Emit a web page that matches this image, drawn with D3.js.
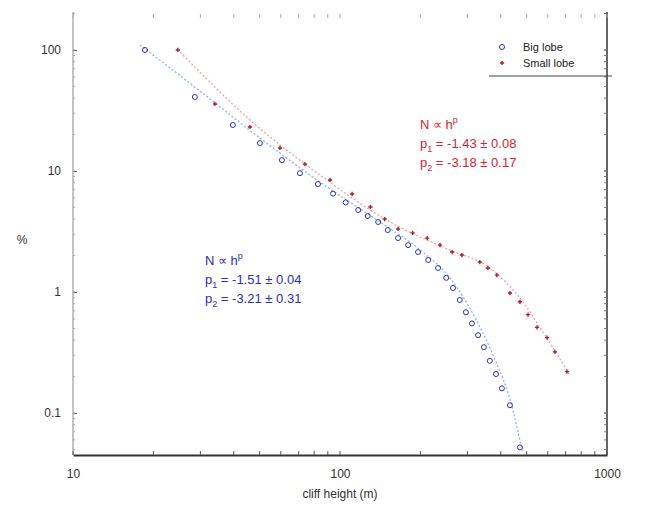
<!DOCTYPE html>
<html>
<head>
<meta charset="utf-8">
<script src="https://cdn.jsdelivr.net/npm/d3@7"></script>
<style>
  body { margin: 0; background: #fff; }
  text { font-family: "Liberation Sans", Arial, sans-serif; }
</style>
</head>
<body>
<svg id="chart" width="648" height="509"></svg>
<script>
// Big lobe: cliff height (m) vs cumulative %
const bigH = [18.6, 28.6, 39.7, 50.1, 60.6, 70.8, 82.7, 94.2, 105, 117, 127, 139, 151, 165, 180, 196, 214, 233, 250, 265, 281, 296, 312, 329, 346, 364, 384, 404, 433, 472];
const bigPct = [100, 40.9, 24.0, 17.0, 12.3, 9.6, 7.8, 6.5, 5.5, 4.76, 4.25, 3.79, 3.25, 2.79, 2.44, 2.14, 1.84, 1.58, 1.31, 1.08, 0.86, 0.68, 0.55, 0.44, 0.35, 0.27, 0.21, 0.16, 0.116, 0.052];

// Small lobe
const smallH = [24.7, 34.0, 46.0, 59.6, 73.9, 91.8, 111, 130, 147, 165, 187, 212, 237, 263, 286, 334, 358, 387, 433, 472, 506, 547, 596, 638, 708];
const smallPct = [100, 35.8, 23.1, 15.5, 11.4, 8.43, 6.46, 5.04, 4.01, 3.32, 3.08, 2.79, 2.44, 2.14, 2.02, 1.77, 1.58, 1.38, 0.98, 0.83, 0.65, 0.51, 0.42, 0.32, 0.22];

// fitted curves
const bigFitH = [17.8, 29.9, 50.1, 84.1, 141, 200, 258, 321, 381, 434, 481];
const bigFitPct = [110, 45.8, 18.7, 8.11, 3.79, 2.22, 1.31, 0.61, 0.274, 0.128, 0.049];
const smallFitH = [25.2, 46.0, 84.1, 154, 258, 364, 472, 586, 726];
const smallFitPct = [96, 26.4, 9.27, 3.79, 2.22, 1.58, 0.89, 0.44, 0.206];

const xTicks = [10, 100, 1000];
const yTicks = [0.1, 1, 10, 100];
const legendLabels = ["Big lobe", "Small lobe"];

const svg = d3.select("#chart");
const mLeft = 73, mRight = 607, mTop = 12, mBottom = 455;

const x = d3.scaleLog().domain([10, 1000]).range([mLeft, mRight]);
const y = d3.scaleLog().domain([0.045, 206]).range([mBottom, mTop]);

const blue = "#2a2fb8", red = "#d8232f";

// minor ticks, every decade 1..9
const minorX = [];
[10, 100].forEach(d => { for (let k = 2; k < 10; k++) minorX.push(d * k); });
const minorY = [];
[0.01, 0.1, 1, 10, 100].forEach(d => { for (let k = 1; k < 10; k++) { const v = d * k; if (v > 0.045 && v < 206) minorY.push(v); } });

// left axis
svg.append("g")
  .attr("transform", `translate(${mLeft},0)`)
  .call(d3.axisLeft(y).tickValues(yTicks).tickFormat(d3.format("~g")).tickSize(3).tickPadding(9))
  .call(g => g.select(".domain").attr("stroke", "#888").attr("d", `M0,${mTop}V${mBottom}`))
  .call(g => g.selectAll(".tick line").attr("x2", 4).attr("stroke", "#555"))
  .call(g => g.selectAll("text").attr("font-size", 12).attr("fill", "#333"));

svg.append("g").selectAll("line").data(minorY).join("line")
  .attr("x1", mLeft).attr("x2", mLeft + 2)
  .attr("y1", d => y(d)).attr("y2", d => y(d))
  .attr("stroke", "#aaa");

// right side ticks + line
svg.append("line").attr("x1", mRight).attr("x2", mRight).attr("y1", mTop).attr("y2", mBottom)
  .attr("stroke", "#333").attr("stroke-width", 1.5);
svg.append("g").selectAll("line").data(minorY.concat(yTicks)).join("line")
  .attr("x1", mRight).attr("x2", mRight - 3)
  .attr("y1", d => y(d)).attr("y2", d => y(d))
  .attr("stroke", "#777");

// bottom axis
svg.append("g")
  .attr("transform", `translate(0,${mBottom})`)
  .call(d3.axisBottom(x).tickValues(xTicks).tickFormat(d3.format("~g")).tickSize(0).tickPadding(14))
  .call(g => g.select(".domain").attr("stroke", "#333").attr("stroke-width", 2))
  .call(g => g.selectAll("text").attr("font-size", 12).attr("fill", "#333"));

svg.append("g").selectAll("line").data(minorX.concat(xTicks)).join("line")
  .attr("x1", d => x(d)).attr("x2", d => x(d))
  .attr("y1", mBottom).attr("y2", mBottom - 4)
  .attr("stroke", "#555");

// top ticks (no line, as in the picture)
svg.append("g").selectAll("line").data(minorX.concat(xTicks)).join("line")
  .attr("x1", d => x(d)).attr("x2", d => x(d))
  .attr("y1", mTop + 2).attr("y2", mTop + 6)
  .attr("stroke", "#aaa");

// axis titles
svg.append("text").attr("x", 340).attr("y", 498).attr("text-anchor", "middle")
  .attr("font-size", 12).attr("fill", "#333").text("cliff height (m)");
svg.append("text").attr("x", 22).attr("y", 244).attr("text-anchor", "middle")
  .attr("font-size", 12).attr("fill", "#333").text("%");

// fit lines
const line = d3.line().x(d => x(d[0])).y(d => y(d[1])).curve(d3.curveMonotoneX);
svg.append("path").datum(d3.zip(bigFitH, bigFitPct))
  .attr("d", line).attr("fill", "none")
  .attr("stroke", "#8ab8ec").attr("stroke-width", 1.3).attr("stroke-dasharray", "2,2");
svg.append("path").datum(d3.zip(smallFitH, smallFitPct))
  .attr("d", line).attr("fill", "none")
  .attr("stroke", "#f2a2a6").attr("stroke-width", 1.3).attr("stroke-dasharray", "2,2");

// big lobe circles
svg.append("g").selectAll("circle").data(d3.zip(bigH, bigPct)).join("circle")
  .attr("cx", d => x(d[0])).attr("cy", d => y(d[1])).attr("r", 2.5)
  .attr("fill", "none").attr("stroke", blue).attr("stroke-width", 1);

// small lobe plus markers
const plus = d3.symbol().type(d3.symbolCross).size(10);
svg.append("g").selectAll("path").data(d3.zip(smallH, smallPct)).join("path")
  .attr("transform", d => `translate(${x(d[0])},${y(d[1])})`)
  .attr("d", plus).attr("fill", "#b0202a");

// legend
const lg = svg.append("g");
lg.append("circle").attr("cx", 502).attr("cy", 47).attr("r", 2.5)
  .attr("fill", "none").attr("stroke", blue);
lg.append("path").attr("transform", "translate(502,63)").attr("d", plus).attr("fill", "#b0202a");
lg.selectAll("text").data(legendLabels).join("text")
  .attr("x", 523).attr("y", (d, i) => 51 + i * 16)
  .attr("font-size", 11).attr("fill", "#222").text(d => d);
lg.append("line").attr("x1", 489).attr("x2", 612).attr("y1", 76).attr("y2", 76)
  .attr("stroke", "#444").attr("stroke-width", 1.2);

// fit annotations
function annot(x0, y0, color, p1, p2) {
  const g = svg.append("g").attr("fill", color).attr("font-size", 13);
  const t = g.append("text").attr("x", x0).attr("y", y0);
  t.append("tspan").text("N \u221D h");
  t.append("tspan").attr("dy", -6).attr("font-size", 9).text("p");
  const a = g.append("text").attr("x", x0).attr("y", y0 + 19);
  a.append("tspan").text("p");
  a.append("tspan").attr("dy", 4).attr("font-size", 9).text("1");
  a.append("tspan").attr("dy", -4).text(" = " + p1);
  const b = g.append("text").attr("x", x0).attr("y", y0 + 38);
  b.append("tspan").text("p");
  b.append("tspan").attr("dy", 4).attr("font-size", 9).text("2");
  b.append("tspan").attr("dy", -4).text(" = " + p2);
}
annot(420, 129, red, "-1.43 \u00B1 0.08", "-3.18 \u00B1 0.17");
annot(205, 265, blue, "-1.51 \u00B1 0.04", "-3.21 \u00B1 0.31");
</script>
</body>
</html>
